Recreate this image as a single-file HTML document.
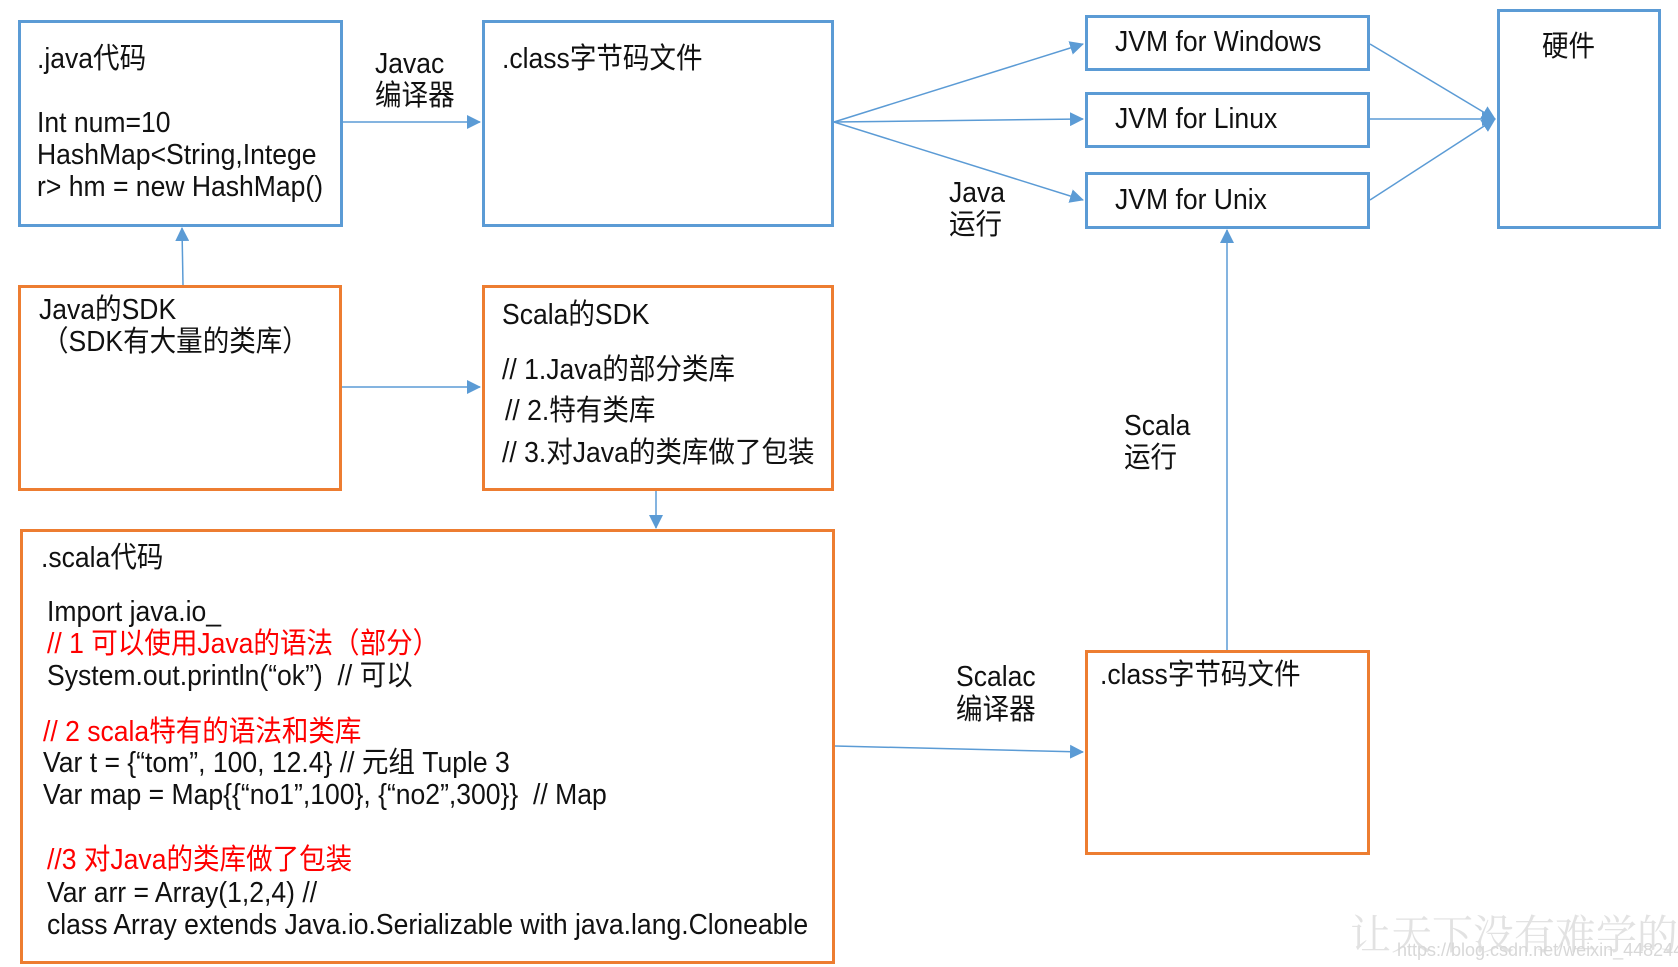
<!DOCTYPE html>
<html><head><meta charset="utf-8"><style>
body{margin:0;width:1678px;height:967px;background:#fff;position:relative;overflow:hidden;font-family:"Liberation Sans","Noto Sans CJK SC",sans-serif;}
.b{position:absolute;box-sizing:border-box;border:3px solid #5b9bd5;}
.o{border-color:#ed7d31;}
.t{position:absolute;font-size:29px;line-height:32px;white-space:nowrap;color:#111;transform:scaleX(0.915);transform-origin:left center;}
.r{color:#f00;}
svg{position:absolute;left:0;top:0;}
</style></head><body>
<div class="b" style="left:18px;top:20px;width:325px;height:207px"></div>
<div class="b" style="left:482px;top:20px;width:352px;height:207px"></div>
<div class="b" style="left:1085px;top:15px;width:285px;height:56px"></div>
<div class="b" style="left:1085px;top:92px;width:285px;height:56px"></div>
<div class="b" style="left:1085px;top:172px;width:285px;height:57px"></div>
<div class="b" style="left:1497px;top:9px;width:164px;height:220px"></div>
<div class="b o" style="left:18px;top:285px;width:324px;height:206px"></div>
<div class="b o" style="left:482px;top:285px;width:352px;height:206px"></div>
<div class="b o" style="left:20px;top:529px;width:815px;height:435px"></div>
<div class="b o" style="left:1085px;top:650px;width:285px;height:205px"></div>

<svg width="1678" height="967">
<defs><marker id="h" markerWidth="14" markerHeight="14" refX="13" refY="7" orient="auto" markerUnits="userSpaceOnUse"><path d="M0,0 L14,7 L0,14 z" fill="#5b9bd5"/></marker></defs>
<g stroke="#5b9bd5" stroke-width="1.5" fill="none">
<line x1="343" y1="122" x2="480" y2="122" marker-end="url(#h)"/>
<line x1="183" y1="285" x2="182" y2="228" marker-end="url(#h)"/>
<line x1="342" y1="387" x2="480" y2="387" marker-end="url(#h)"/>
<line x1="656" y1="491" x2="656" y2="528" marker-end="url(#h)"/>
<line x1="834" y1="122" x2="1083" y2="44" marker-end="url(#h)"/>
<line x1="834" y1="122" x2="1083" y2="119" marker-end="url(#h)"/>
<line x1="834" y1="122" x2="1083" y2="200" marker-end="url(#h)"/>
<line x1="1370" y1="44" x2="1495" y2="119" marker-end="url(#h)"/>
<line x1="1370" y1="119" x2="1495" y2="119" marker-end="url(#h)"/>
<line x1="1370" y1="200" x2="1495" y2="119" marker-end="url(#h)"/>
<line x1="835" y1="746" x2="1083" y2="752" marker-end="url(#h)"/>
<line x1="1227" y1="650" x2="1227" y2="230" marker-end="url(#h)"/>
</g></svg>

<div class="t" style="left:37px;top:43px">.java代码</div>
<div class="t" style="left:37px;top:107px">Int num=10</div>
<div class="t" style="left:37px;top:139px">HashMap&lt;String,Intege</div>
<div class="t" style="left:37px;top:171px">r&gt; hm = new HashMap()</div>
<div class="t" style="left:375px;top:48px">Javac</div>
<div class="t" style="left:375px;top:80px">编译器</div>
<div class="t" style="left:502px;top:43px">.class字节码文件</div>
<div class="t" style="left:1115px;top:26px">JVM for Windows</div>
<div class="t" style="left:1115px;top:103px">JVM for Linux</div>
<div class="t" style="left:1115px;top:184px">JVM for Unix</div>
<div class="t" style="left:1542px;top:31px">硬件</div>
<div class="t" style="left:949px;top:177px">Java</div>
<div class="t" style="left:949px;top:209px">运行</div>
<div class="t" style="left:39px;top:294px">Java的SDK</div>
<div class="t" style="left:42px;top:326px">（SDK有大量的类库）</div>
<div class="t" style="left:502px;top:299px">Scala的SDK</div>
<div class="t" style="left:502px;top:354px">// 1.Java的部分类库</div>
<div class="t" style="left:505px;top:395px">// 2.特有类库</div>
<div class="t" style="left:502px;top:437px">// 3.对Java的类库做了包装</div>
<div class="t" style="left:1124px;top:410px">Scala</div>
<div class="t" style="left:1124px;top:442px">运行</div>
<div class="t" style="left:956px;top:661px">Scalac</div>
<div class="t" style="left:956px;top:694px">编译器</div>
<div class="t" style="left:1100px;top:659px">.class字节码文件</div>
<div class="t" style="left:41px;top:542px">.scala代码</div>
<div class="t" style="left:47px;top:596px">Import java.io_</div>
<div class="t r" style="left:47px;top:628px">// 1 可以使用Java的语法（部分）</div>
<div class="t" style="left:47px;top:660px">System.out.println(“ok”)&nbsp; // 可以</div>
<div class="t r" style="left:43px;top:716px">// 2 scala特有的语法和类库</div>
<div class="t" style="left:43px;top:747px">Var t = {“tom”, 100, 12.4} // 元组 Tuple 3</div>
<div class="t" style="left:43px;top:779px">Var map = Map{{“no1”,100}, {“no2”,300}}&nbsp; // Map</div>
<div class="t r" style="left:47px;top:844px">//3 对Java的类库做了包装</div>
<div class="t" style="left:47px;top:877px">Var arr = Array(1,2,4) //</div>
<div class="t" style="left:47px;top:909px">class Array extends Java.io.Serializable with java.lang.Cloneable</div>
<div style="position:absolute;left:1350px;top:902px;font-size:41px;color:#e2e2e2;font-family:'Noto Serif CJK SC',serif;white-space:nowrap">让天下没有难学的</div>
<div style="position:absolute;left:1397px;top:940px;font-size:18px;color:#d8d8d8;white-space:nowrap">https://blog.csdn.net/weixin_44824495</div>
</body></html>
